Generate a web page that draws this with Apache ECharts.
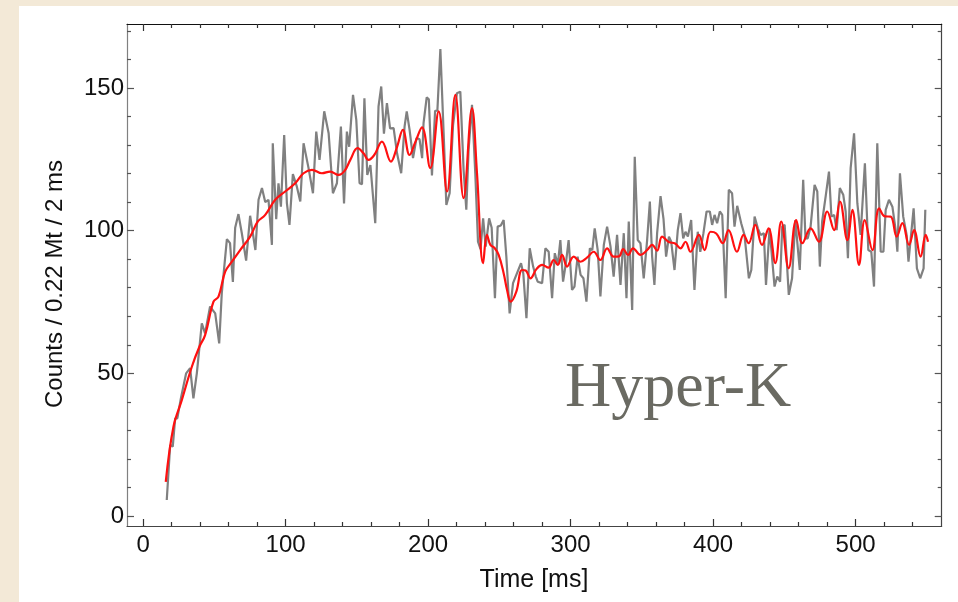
<!DOCTYPE html>
<html>
<head>
<meta charset="utf-8">
<script src="https://cdn.jsdelivr.net/npm/echarts@6/dist/echarts.min.js"></script>
<style>
html,body{margin:0;padding:0;width:958px;height:602px;background:#f3e9d7;overflow:hidden;}
#panel{position:absolute;left:19px;top:6px;width:939px;height:596px;background:#ffffff;}
</style>
</head>
<body>
<div id="panel"></div>
<script>
// Gray: measured counts per 2 ms bin
const grayT = [16.6,19,20.8,22.5,24,26.5,30.2,33,35.3,37.7,41.2,43.5,47,50.6,53.4,55.2,58.8,61,63,64.6,66.9,69.3,72.3,75.1,78.8,81,83.4,85.7,88,90.4,91,93.4,95,96.7,99,100.9,102.7,105.1,107.9,110.3,112.6,116.1,119.2,121.5,123.8,127.1,130.2,133.2,136,138.8,141,143,144.6,147.3,149.6,151.9,153.6,155.3,157.3,159.5,162.9,165.2,167.1,169,171.1,173.3,175.8,178.2,181.1,183.5,185,187,189.4,191.9,194,195.8,196.8,199,200.5,202.7,204.9,206.5,208.6,210.9,212.8,215.1,217.5,220.2,222.6,224.9,226.8,228.4,230.8,233.1,235,236.8,238.6,240.4,242.8,244.6,246.9,248.8,251,253,254.9,257.2,259.6,262.4,265.2,266.8,269,271.3,273.7,275.5,276.9,280,282.3,284.6,287,288.9,291,292.8,294.7,296.8,298.6,301,302.7,304.9,307,309,311.1,313.5,315.2,316.9,319,320.9,323.3,325.6,328,330.2,332.6,335,337.3,339.2,340.8,343.2,345,347.1,349,351.3,353.7,355.6,357.2,358.8,360.7,363.1,365.2,367,369,370.6,372.9,375.2,377.1,379,380.6,382.3,384.6,386.9,389.2,391,393.2,395.4,397.7,399.3,401,402.8,404.7,406.4,408.8,411,413.3,415,416.9,419.7,422,425.1,426.8,429.1,431.4,433.3,435.6,437.1,439.6,441,443.1,445,447,448.5,450.2,453.1,455.4,457.7,460.8,463.2,464.8,466.4,468.4,471.2,473.1,474.9,476.5,479,481.3,483,484.9,486.7,488.9,491.3,493,494.6,496.5,498.9,501.2,503.5,506.5,508.9,511,512.9,515.2,517.6,519.5,521.1,523.4,525.8,528.1,529.3,531.1,533.4,535.8,537.1,540.7,543,545.3,547.7,548.9];
const grayV = [5.6,24.9,24.3,34.2,34.2,41.2,50,51.8,41.2,50,67.5,64,73.4,71,60.5,78,97,95.6,82,101,105.8,99,89.5,105.2,93.2,110.8,114.9,110,110.8,95,130.6,104,116.6,108.4,133.5,109.6,102,119.8,115.4,110.2,130.6,121.9,113.1,134.7,124.8,141.8,134.1,113.1,116.6,136.5,109.5,134.7,129.4,147.6,138.8,116.6,116.3,146.4,119.5,123,102.6,143.5,150.5,134,144.7,135.8,135.9,127.1,120.1,136.5,141.8,135.3,125.4,132.5,132,125.4,137.7,146.7,146,119.3,142,142,163.6,134.1,109,113.1,137,148.1,148.7,121.3,107.3,128.3,144.1,120.1,96.1,93.5,104.3,94.4,104.3,101,76.3,101.4,101.8,103.7,90.9,71,81.6,85.1,88.6,85,69.3,93.8,87.4,84,82.1,81.6,93.8,92.6,76.3,92.1,88,96.7,82.1,89,96.7,79.2,80.4,90.9,84.5,83.3,75.1,93.8,93.2,100.8,93.2,76.9,95,101.4,94.4,83.9,98.5,81,99.1,76.3,103.2,72.2,125.9,96.7,95.6,83.3,96.7,110.2,91,81,99.1,112.1,104,90.9,97.9,96.1,86.2,100.2,106.1,97.3,99.6,97.9,103.7,79.2,99.6,92.6,99.1,106.7,106.7,102,105.5,102.6,106.7,105.5,76.3,114.3,113.1,101.4,108.7,102.6,98.5,83.3,86.2,104.9,100.8,98.5,99.1,81,100.8,100.2,80.4,83.9,82.1,101.4,102,77.5,83.3,103.7,86.2,117.8,97.3,97.3,101.4,116,113.7,87.4,103.2,112.1,120.7,104.9,105.5,100.2,114.9,112.6,106.7,90.3,121.9,134.1,109.6,98.5,123.6,93.2,92.6,80.4,130.6,92.6,92.6,107.3,110.8,108.4,100.2,92.6,120.1,104.9,98.5,89.1,107.8,86.8,83.3,86.8,107.3];
// Red: smoothed curve
const redT = [15.9,21.3,27.2,34.2,39.5,43.5,49.4,52.9,57.6,62.3,68.1,75.1,80.5,85.7,92.7,99.7,106.7,112.6,118.5,125.5,131.3,137.2,141.5,145.4,150.5,154.7,158.2,162.2,167.6,173.9,178,182.3,187,191,195.7,201.5,207.4,213.3,219.1,224.9,230.8,234.3,238.6,241.3,243.7,246.5,249.5,253,255.4,258,261.9,265.9,268.5,271.8,276,280,284.5,288.1,291,294,297.5,302.2,306.9,311.5,316.2,320.9,325.6,330.2,334,336.9,340.3,343.8,349,353.7,357.2,360.7,364.2,368.9,373.3,377.1,380.6,384.1,390,394,398.2,402.2,406.8,410.8,416.7,421.4,424.9,429.6,434.3,438.9,443.6,447.8,453,458.3,462.6,468.4,474.2,480.1,484.9,489,494.2,497.7,502.4,506.4,511.8,516.5,520.5,524.6,528.8,532.8,537.5,541,545.6,549.2,550.8];
const redV = [12,31.3,40.7,52.3,59.3,63.4,75.1,76.9,85.6,89.1,93.2,97.9,103.2,105.5,110.8,113.7,116.6,120.1,121.3,120.1,120.7,119.5,121,124.8,128.9,127.1,124.8,126.5,131.2,124.2,129,135.3,126.5,131,136.2,121.9,141.8,113.7,147.6,111.4,142.9,120.1,88.6,98.5,95,94,91.5,85.1,79.2,75.1,78.6,86.2,86,83.3,86.5,88,87,89.7,88,91.5,87.4,90.9,89.1,90.5,92.6,89.7,93.8,90.9,91,93.5,91.5,93.8,91.5,93.2,95,93,97.9,96,95.5,93.8,96.1,92.6,98.5,93.2,99.6,99,95.6,100.2,92.6,98.5,95.6,102,95,100.8,88.6,103.2,86.8,103.7,95.6,100.8,96.1,106.7,100.2,110.2,96.7,107.3,88,103.7,93.2,107.8,105,104.9,97.9,102.6,95,100.2,90.9,98.5,96.1];

const xMajor = [0,100,200,300,400,500];
const xMinor = [20,40,60,80,120,140,160,180,220,240,260,280,320,340,360,380,420,440,460,480,520,540];
const yMajor = [0,50,100,150];
const yMinor = [10,20,30,40,60,70,80,90,110,120,130,140,160,170];
const xName = 'Time [ms]';
const yName = 'Counts / 0.22 Mt / 2 ms';
const watermark = 'Hyper-K';

const FONT = '"Liberation Sans", Arial, Helvetica, sans-serif';
const XMIN = -11.3, XMAX = 560.4, YMIN = -3.5, YMAX = 172.4;

function mkX(pos, ticks, len, showLabel, showLine, lineColor) {
  return {
    type: 'value', position: pos, min: XMIN, max: XMAX,
    axisLine: {show: showLine, onZero: false, lineStyle: {color: lineColor, width: 1.2}},
    axisTick: {show: true, inside: true, length: len, customValues: ticks, lineStyle: {color: '#333', width: 1.2}},
    axisLabel: {show: showLabel, customValues: ticks, color: '#111', fontFamily: FONT, fontSize: 24, margin: 7},
    splitLine: {show: false}
  };
}
function mkY(pos, ticks, len, showLabel, showLine, lineColor) {
  return {
    type: 'value', position: pos, min: YMIN, max: YMAX,
    axisLine: {show: showLine, onZero: false, lineStyle: {color: lineColor, width: 1.2}},
    axisTick: {show: true, inside: true, length: len, customValues: ticks, lineStyle: {color: '#555', width: 1.2}},
    axisLabel: {show: showLabel, customValues: ticks, color: '#111', fontFamily: FONT, fontSize: 24, margin: 3},
    splitLine: {show: false}
  };
}

const chart = echarts.init(document.getElementById('panel'), null, {renderer: 'canvas'});
chart.setOption({
  animation: false,
  backgroundColor: '#ffffff',
  grid: {left: 108, top: 18, right: 16.3, bottom: 76, containLabel: false},
  xAxis: [
    mkX('bottom', xMajor, 7, true, true, '#444'),
    mkX('bottom', xMinor, 4, false, false, '#444'),
    mkX('top', xMajor, 7, false, true, '#111'),
    mkX('top', xMinor, 4, false, false, '#111')
  ],
  yAxis: [
    mkY('left', yMajor, 7, true, true, '#808080'),
    mkY('left', yMinor, 4, false, false, '#808080'),
    mkY('right', yMajor, 7, false, true, '#444'),
    mkY('right', yMinor, 4, false, false, '#444')
  ],
  graphic: [
    {type: 'text', x: 36, y: 278, rotation: Math.PI / 2,
      style: {text: yName, fontFamily: FONT, fontSize: 24, fill: '#111', align: 'center', verticalAlign: 'middle'}},
    {type: 'text', x: 515, y: 574,
      style: {text: xName, fontFamily: FONT, fontSize: 25, fill: '#111', align: 'center', verticalAlign: 'middle'}},
    {type: 'text', x: 546, y: 415,
      style: {text: watermark, fontFamily: '"Liberation Serif", "Times New Roman", serif', fontSize: 64, fill: '#6a6a62', align: 'left', verticalAlign: 'bottom'}}
  ],
  series: [
    {type: 'line', name: 'data', xAxisIndex: 0, yAxisIndex: 0, showSymbol: false, symbol: 'none',
      lineStyle: {color: '#808080', width: 2.2}, z: 2,
      data: grayT.map((t, i) => [t, grayV[i]])},
    {type: 'line', name: 'smooth', xAxisIndex: 0, yAxisIndex: 0, showSymbol: false, symbol: 'none', smooth: 0.4,
      lineStyle: {color: '#ff1010', width: 2.2}, z: 3,
      data: redT.map((t, i) => [t, redV[i]])}
  ]
});
</script>
</body>
</html>
